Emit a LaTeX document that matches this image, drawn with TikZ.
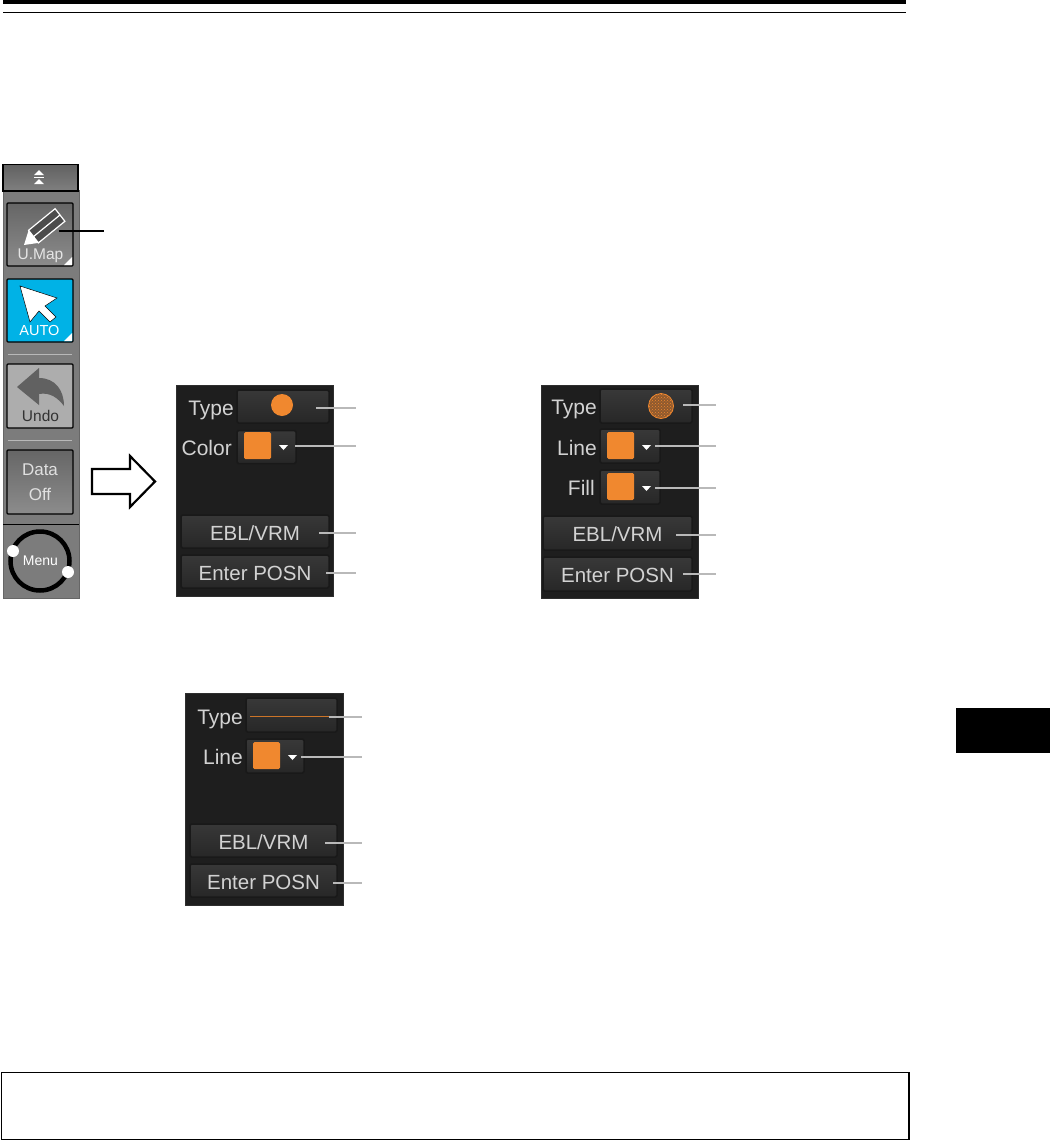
\documentclass[tikz,border=0pt]{standalone}
\usepackage{fontspec}
\setmainfont{Liberation Sans}
\usepackage{xcolor}
\usetikzlibrary{patterns}
\definecolor{panelbg}{HTML}{1E1E1E}
\definecolor{btntop}{HTML}{383838}
\definecolor{btnbot}{HTML}{272727}
\definecolor{barbg}{HTML}{7C7C7C}
\definecolor{swatchor}{HTML}{F0882F}
\definecolor{hatchor}{HTML}{8F5A2E}
\definecolor{leadgray}{HTML}{B9B9B9}
\definecolor{lettergray}{HTML}{D2D2D2}
\definecolor{autoblue}{HTML}{00B2E6}
\begin{document}
\begin{tikzpicture}[x = 1pt, y = -1pt, inner sep = 0,
  panel/.style = {draw = black!82, line width = 1.4pt, fill = panelbg, anchor = north west},
  panelbtn/.style = {draw = black!90, line width = 1.5pt, top color = btntop, bottom color = btnbot, rounded corners = 1.5pt, minimum height = 33, text = lettergray, text height = 17.5pt, text depth = 0pt, font = \fontsize{20.5}{22}\selectfont},
  swatch/.style = {fill = swatchor, rounded corners = 1.5pt, minimum width = 27, minimum height = 27},
  btncaption/.style = {text = lettergray, anchor = base east, font = \fontsize{21}{23}\selectfont},
  leader/.style = {draw = leadgray, line width = 1.9pt},
  toolbtn/.style = {draw = black, line width = 1.3pt, rounded corners = 1pt, minimum width = 66, minimum height = 63, top color = black!60, bottom color = black!45},
  divider/.style = {draw = black!28, line width = .8pt},
  rulebox/.style = {draw = black, line width = 1.5pt, anchor = north west}]
 \useasboundingbox (0, 0) rectangle (1050, 1140);
 % page furniture
 \fill (3, 0) rectangle (906, 4);
 \draw[line width = 1.4pt] (3, 12.5) -- (906, 12.5);
 \fill (956, 708) rectangle (1050, 753);
 \node (notebox) at (.7, 1071.7) [rulebox, minimum width = 907.6, minimum height = 67.6] {};

 % side bar
 \filldraw[fill = barbg, draw = black!60, line width = .8pt] (3, 190) rectangle (79, 598);
 \filldraw[top color = black!62, bottom color = black!50, draw = black, line width = 1.2pt] (3, 164.5) rectangle (78, 191);
 \fill[white] (39, 170) -- (44, 175) -- (34, 175) -- cycle;
 \fill[white] (39, 179) -- (44, 184) -- (34, 184) -- cycle;
 \draw[white] (34, 177) -- (44, 177);

 \node (umap) at (40, 234.5) [toolbtn] {};
 \fill[black!70] (28.6, 230.3) -- (38.4, 242.9) -- (64.9, 221.3) -- (55.1, 208.7) -- cycle;
 \draw[white, line width = 1.2pt] (28.6, 230.3) -- (55.1, 208.7) -- (64.9, 221.3) -- (38.4, 242.9) -- cycle;
 \draw[white, line width = 1.2pt] (33.5, 236.6) -- (60, 215);
 \fill[white] (28.6, 230.3) -- (38.4, 242.9) -- (24, 245) -- cycle;
 \node (umaptext) at (40.5, 255.5) [text = white!90!black, font = \fontsize{15.5}{17}\selectfont] {U.Map};
 \fill[white] (72, 257) -- (72, 265) -- (64, 265) -- cycle;

 \node (auto) at (40, 310.5) [toolbtn, top color = autoblue, bottom color = autoblue] {};
 \filldraw[fill = white, draw = black, line width = .5pt] (20, 286) -- (57, 298) -- (45, 306) -- (56, 317) -- (50, 322) -- (39, 311) -- (30, 322) -- cycle;
 \node (autotext) at (39.5, 331) [text = white, font = \fontsize{14.5}{16}\selectfont] {AUTO};
 \fill[white] (72, 333) -- (72, 341) -- (64, 341) -- cycle;
 \draw[divider] (8, 354) -- (72, 354);

 \node (undo) at (40, 396) [toolbtn, minimum height = 64, top color = black!32, bottom color = black!32] {};
 \fill[black!62] (39, 368) -- (17, 387) -- (39, 405) -- (39, 394) .. controls (50, 392) and (58, 398) .. (64, 406) .. controls (64, 390) and (55, 378) .. (39, 378) -- cycle;
 \node (undotext) at (40.5, 416) [text = black!80, font = \fontsize{15.5}{17}\selectfont] {Undo};
 \draw[divider] (8, 440.5) -- (72, 440.5);

 \node (data) at (40, 482) [toolbtn, minimum height = 64, align = center, text = black!12, font = \fontsize{17}{25}\selectfont] {Data\\Off};
 \draw[black, line width = 1.2pt] (3, 524.5) -- (79, 524.5);
 \draw[line width = 4.5pt] (40, 561) circle (29.5);
 \node (menu) at (40.5, 561) [text = white, font = \fontsize{14}{16}\selectfont] {Menu};
 \node (menudota) at (13, 551) [fill = white, circle, minimum size = 12] {};
 \node (menudotb) at (68, 572) [fill = white, circle, minimum size = 12] {};

 \coordinate (umapin) at (59, 231);
 \coordinate (umapend) at (104, 231);
 \draw[line width = 2pt] (umapin) -- (umapend);
 \filldraw[fill = white, line width = 2.2pt] (92, 469) -- (130, 469) -- (130, 456) -- (155, 481.5) -- (130, 507) -- (130, 494) -- (92, 494) -- cycle;

 % point panel
 \node (panela) at (176, 385) [panel, minimum width = 157, minimum height = 211] {};
 \node (typea) at (283, 406.5) [panelbtn, minimum width = 92] {};
 \node (typeacap) at (234, 415) [btncaption] {Type};
 \fill[swatchor] (282, 405) circle (11);
 \node (colora) at (266.5, 447) [panelbtn, minimum width = 59] {};
 \node (colorswa) at (257.5, 445.5) [swatch] {};
 \fill[white] (279, 445) -- (288, 445) -- (283.5, 450) -- cycle;
 \node (coloracap) at (232, 455) [btncaption] {Color};
 \node (ebla) at (255, 531.5) [panelbtn, minimum width = 148] {EBL/VRM};
 \node (posna) at (255, 571.5) [panelbtn, minimum width = 148] {Enter POSN};
 \coordinate (typeain) at (316, 408);
 \coordinate (typeaend) at (356, 408);
 \coordinate (colorain) at (295, 446);
 \coordinate (coloraend) at (356, 446);
 \coordinate (eblain) at (319, 533);
 \coordinate (eblaend) at (356, 533);
 \coordinate (posnain) at (326, 573);
 \coordinate (posnaend) at (356, 573);
 \draw[leader] (typeain) -- (typeaend);
 \draw[leader] (colorain) -- (coloraend);
 \draw[leader] (eblain) -- (eblaend);
 \draw[leader] (posnain) -- (posnaend);

 % area panel
 \node (panelb) at (541, 385) [panel, minimum width = 157, minimum height = 213] {};
 \node (typeb) at (646, 406) [panelbtn, minimum width = 92, minimum height = 34] {};
 \node (typebcap) at (597, 414) [btncaption] {Type};
 \fill[hatchor] (661, 406) circle (12.5);
 \filldraw[draw = swatchor, pattern = crosshatch dots, pattern color = swatchor, line width = .8pt] (661, 406) circle (12.5);
 \node (lineb) at (630, 446) [panelbtn, minimum width = 60, minimum height = 34] {};
 \node (lineswb) at (620.5, 445.5) [swatch] {};
 \fill[white] (642, 445) -- (651, 445) -- (646.5, 450) -- cycle;
 \node (linebcap) at (597, 455) [btncaption] {Line};
 \node (fillb) at (630, 487) [panelbtn, minimum width = 60, minimum height = 34] {};
 \node (fillswb) at (620.5, 486.5) [swatch] {};
 \fill[white] (642, 486) -- (651, 486) -- (646.5, 491) -- cycle;
 \node (fillbcap) at (595, 495) [btncaption] {Fill};
 \node (eblb) at (617.5, 533) [panelbtn, minimum width = 149, minimum height = 34] {EBL/VRM};
 \node (posnb) at (617.5, 574) [panelbtn, minimum width = 149, minimum height = 34] {Enter POSN};
 \coordinate (typebin) at (683, 405);
 \coordinate (typebend) at (716, 405);
 \coordinate (linebin) at (655, 446);
 \coordinate (linebend) at (716, 446);
 \coordinate (fillbin) at (655, 488);
 \coordinate (fillbend) at (716, 488);
 \coordinate (eblbin) at (676, 535);
 \coordinate (eblbend) at (716, 535);
 \coordinate (posnbin) at (683, 574);
 \coordinate (posnbend) at (716, 574);
 \draw[leader] (typebin) -- (typebend);
 \draw[leader] (linebin) -- (linebend);
 \draw[leader] (fillbin) -- (fillbend);
 \draw[leader] (eblbin) -- (eblbend);
 \draw[leader] (posnbin) -- (posnbend);

 % line panel
 \node (panelc) at (185, 693) [panel, minimum width = 158, minimum height = 212] {};
 \node (typec) at (291.5, 715) [panelbtn, minimum width = 91, minimum height = 34] {};
 \node (typeccap) at (243, 724) [btncaption] {Type};
 \draw[swatchor!85!black, line width = .9pt] (250, 716) -- (333, 716);
 \node (linec) at (275, 756) [panelbtn, minimum width = 58, minimum height = 34] {};
 \node (lineswc) at (266.5, 755.5) [swatch] {};
 \fill[white] (288, 755) -- (297, 755) -- (292.5, 760) -- cycle;
 \node (lineccap) at (243, 764) [btncaption] {Line};
 \node (eblc) at (263.5, 840.5) [panelbtn, minimum width = 147] {EBL/VRM};
 \node (posnc) at (263.5, 880.5) [panelbtn, minimum width = 147] {Enter POSN};
 \coordinate (typecin) at (329, 717);
 \coordinate (typecend) at (362, 717);
 \coordinate (linecin) at (301, 757);
 \coordinate (linecend) at (362, 757);
 \coordinate (eblcin) at (325, 843);
 \coordinate (eblcend) at (362, 843);
 \coordinate (posncin) at (333, 883);
 \coordinate (posncend) at (362, 883);
 \draw[leader] (typecin) -- (typecend);
 \draw[leader] (linecin) -- (linecend);
 \draw[leader] (eblcin) -- (eblcend);
 \draw[leader] (posncin) -- (posncend);
\end{tikzpicture}
\end{document}
